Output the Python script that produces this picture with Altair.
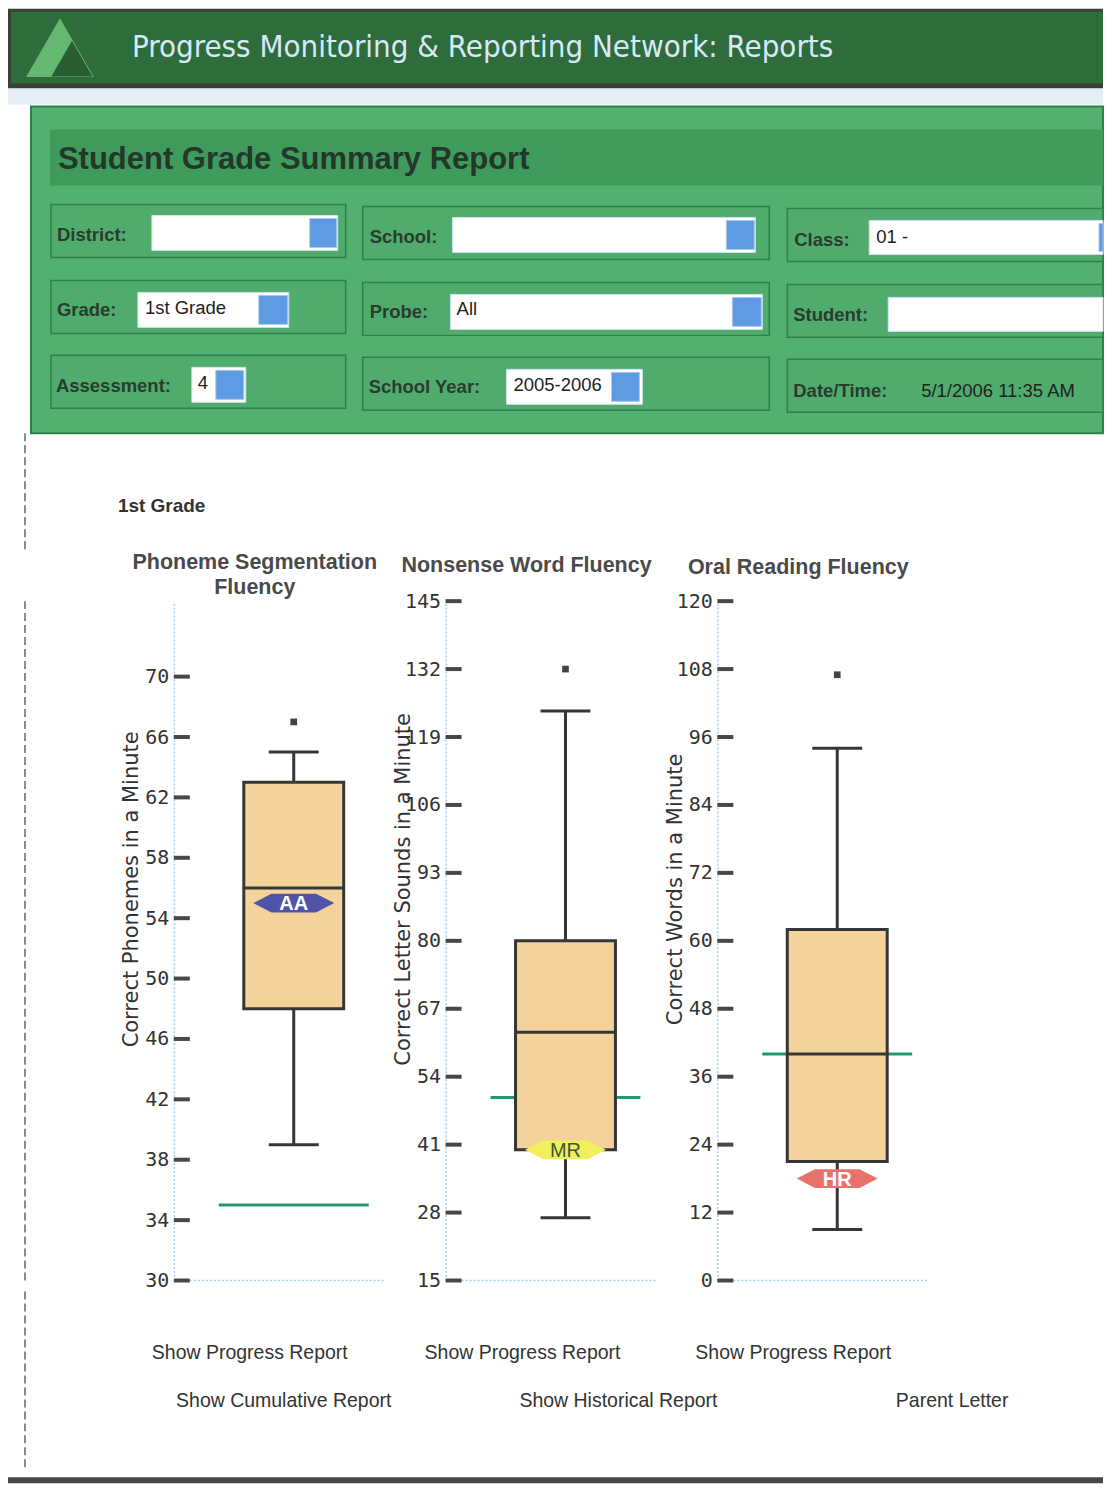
import altair as alt
import pandas as pd

# ---------------- report content ----------------
HEADER_TITLE = "Progress Monitoring & Reporting Network: Reports"
REPORT_TITLE = "Student Grade Summary Report"
FIELD_LABELS = ["District:", "School:", "Class:", "Grade:", "Probe:", "Student:",
                "Assessment:", "School Year:", "Date/Time:"]
FIELD_VALUES = ["", "", "01 -", "1st Grade", "All", "", "4", "2005-2006", "5/1/2006 11:35 AM"]
GRADE_TITLE = "1st Grade"

PROBES = ["PSF", "NWF", "ORF"]
PROBE_TITLES = [["Phoneme Segmentation", "Fluency"], ["Nonsense Word Fluency"], ["Oral Reading Fluency"]]
AXIS_TITLES = ["Correct Phonemes in a Minute", "Correct Letter Sounds in a Minute", "Correct Words in a Minute"]
Y_MIN = [30, 15, 0]
Y_MAX = [75, 145, 120]
TICKS_PSF = [30, 34, 38, 42, 46, 50, 54, 58, 62, 66, 70]
TICKS_NWF = [15, 28, 41, 54, 67, 80, 93, 106, 119, 132, 145]
TICKS_ORF = [0, 12, 24, 36, 48, 60, 72, 84, 96, 108, 120]
WHISKER_LOW = [39, 27, 9]
Q1 = [48, 40, 21]
MEDIAN = [56, 62.5, 40]
Q3 = [63, 80, 62]
WHISKER_HIGH = [65, 124, 94]
OUTLIER = [67, 132, 107]
BENCHMARK = [35, 50, 40]
STUDENT_SCORE = [55, 40, 18]
STUDENT_LEVEL = ["AA", "MR", "HR"]

LINKS_TOP = ["Show Progress Report", "Show Progress Report", "Show Progress Report"]
LINKS_BOTTOM = ["Show Cumulative Report", "Show Historical Report", "Parent Letter"]

# ---------------- layout / styles ----------------
X0, X1 = 8, 1104          # page pixel span used by full-width strips
A_Y0, A_Y1 = 8, 550       # header + form strip
C_Y0, C_Y1 = 1290, 1482   # links strip
PANEL_W, PANEL_H = 210, 680
PANEL_GAP = 8
SPACER_W = 105
BOX_BAND = [70, 170]
TITLE_OFFSET = [1, 13, 11]
TITLE_DY = 20
MARKER_FILL = ["#4f54a6", "#f2ef5c", "#e8716b"]
MARKER_TEXT = ["#ffffff", "#3c5a34", "#ffffff"]
MARKER_WEIGHT = ["bold", "normal", "bold"]
HEX = "M -1 0 L -0.55 -0.23 L 0.55 -0.23 L 1 0 L 0.55 0.23 L -0.55 0.23 Z"
BOX_FILL = "#f6d29b"
INK = "#363636"
GREEN_LINE = "#1f9a6e"
AXIS_BLUE = "#a7cdea"

COL_X = [(51, 346), (363, 770), (788, X1)]
COL_DY = [0, 2, 4]
ROW_Y = [(204, 257), (280, 333), (355, 408)]
LABEL_POS = [(57, 235), (370, 237), (795, 240), (57, 310), (370, 312), (794, 315),
             (56, 386), (369, 387), (794, 391)]
VALUE_POS = [(0, 0), (0, 0), (877, 237), (145, 308), (457, 309), (0, 0),
             (198, 383), (514, 385), (922, 391)]
INPUTS = [(152, 338, 215, 250), (453, 756, 217, 252), (870, X1, 220, 254),
          (138, 289, 292, 327), (451, 763, 294, 329), (889, X1, 297, 331),
          (192, 246, 367, 402), (507, 643, 369, 404), None]
BUTTONS = [(310, 337), (727, 755), (1100, X1), (259, 288), (733, 762), None,
           (216, 244), (612, 640), None]

XS_A = alt.Scale(domain=[X0, X1], nice=False, zero=False)
YS_A = alt.Scale(domain=[A_Y0, A_Y1], nice=False, zero=False, reverse=True)
YS_C = alt.Scale(domain=[C_Y0, C_Y1], nice=False, zero=False, reverse=True)

# ---------------- chart A: banner and form ----------------
rects = [
    (X0, X1, 8, 88, "#3b4035", "#3b4035", 0),
    (11, X1, 11, 83, "#2f6c3c", "#2f6c3c", 0),
    (X0, X1, 88, 104, "#e4eef6", "#e4eef6", 0),
    (31, X1, 106, 433, "#52b070", "#2e7f48", 2),
    (50, X1, 129, 185, "#3f9b5b", "#3f9b5b", 0),
]
for r in range(3):
    for c in range(3):
        rects.append((COL_X[c][0], COL_X[c][1], ROW_Y[r][0] + COL_DY[c], ROW_Y[r][1] + COL_DY[c],
                      "#4fac6d", "#327f4a", 1.5))
for k, inp in enumerate(INPUTS):
    if inp is None:
        continue
    rects.append((inp[0], inp[1], inp[2], inp[3], "#ffffff", "#cfe0f2", 1))
    if BUTTONS[k] is not None:
        rects.append((BUTTONS[k][0], BUTTONS[k][1], inp[2] + 3, inp[3] - 3, "#5d9be2", "#a9c9ef", 1))
rect_df = pd.DataFrame(rects, columns=["x", "x2", "y", "y2", "fill", "stroke", "sw"])

rect_layer = alt.Chart(rect_df).mark_rect().encode(
    x=alt.X("x:Q", scale=XS_A, axis=None), x2="x2:Q",
    y=alt.Y("y:Q", scale=YS_A, axis=None), y2="y2:Q",
    fill=alt.Fill("fill:N", scale=None), stroke=alt.Stroke("stroke:N", scale=None),
    strokeWidth=alt.StrokeWidth("sw:Q", scale=None),
)

logo_df = pd.DataFrame({"x": [60, 72], "y": [47, 58], "c": ["#64b870", "#2a5d31"], "s": [4600, 1700]})
logo_layer = alt.Chart(logo_df).mark_point(shape="triangle-up", filled=True, opacity=1).encode(
    x=alt.X("x:Q", scale=XS_A, axis=None), y=alt.Y("y:Q", scale=YS_A, axis=None),
    color=alt.Color("c:N", scale=None), size=alt.Size("s:Q", scale=None),
)

def text_layer(df, scale_y, **style):
    return alt.Chart(df).mark_text(align="left", baseline="middle", **style).encode(
        x=alt.X("x:Q", scale=XS_A, axis=None), y=alt.Y("y:Q", scale=scale_y, axis=None), text="t:N")

header_text = text_layer(pd.DataFrame({"x": [132], "y": [47], "t": [HEADER_TITLE]}), YS_A,
                         font="DejaVu Sans Condensed, Roboto Condensed, Roboto, Liberation Sans",
                         fontSize=31, color="#d8e8f7")
report_text = text_layer(pd.DataFrame({"x": [58], "y": [159], "t": [REPORT_TITLE]}), YS_A,
                         font="Liberation Sans", fontSize=31, fontWeight="bold", color="#24372a")
lab_df = pd.DataFrame({"x": [p[0] for p in LABEL_POS], "y": [p[1] for p in LABEL_POS], "t": FIELD_LABELS})
label_text = text_layer(lab_df, YS_A, font="Liberation Sans", fontSize=18.5, fontWeight="bold", color="#2b3b2f")
val_rows = [(VALUE_POS[k][0], VALUE_POS[k][1], v) for k, v in enumerate(FIELD_VALUES) if v]
val_df = pd.DataFrame(val_rows, columns=["x", "y", "t"])
value_text = text_layer(val_df, YS_A, font="Liberation Sans", fontSize=18.5, color="#222222")
grade_text = text_layer(pd.DataFrame({"x": [118], "y": [506], "t": [GRADE_TITLE]}), YS_A,
                        font="Liberation Sans", fontSize=19, fontWeight="bold", color="#333333")
border_a = alt.Chart(pd.DataFrame({"x": [25], "y": [433], "y2": [A_Y1]})).mark_rule(
    color="#666666", strokeDash=[8, 4], strokeWidth=1.5).encode(
    x=alt.X("x:Q", scale=XS_A, axis=None), y=alt.Y("y:Q", scale=YS_A, axis=None), y2="y2:Q")

chart_a = alt.layer(rect_layer, logo_layer, header_text, report_text, label_text, value_text,
                    grade_text, border_a).properties(width=X1 - X0, height=A_Y1 - A_Y0)

# ---------------- chart B: three box plots ----------------
def panel(i, ticks):
    row = pd.DataFrame({
        "probe": [PROBES[i]], "ymin": [Y_MIN[i]], "lo": [WHISKER_LOW[i]], "q1": [Q1[i]],
        "med": [MEDIAN[i]], "q3": [Q3[i]], "hi": [WHISKER_HIGH[i]], "out": [OUTLIER[i]],
        "bench": [BENCHMARK[i]], "student": [STUDENT_SCORE[i]], "level": [STUDENT_LEVEL[i]],
    })
    ysc = alt.Scale(domain=[Y_MIN[i], Y_MAX[i]], nice=False, zero=False)
    yax = alt.Axis(title=AXIS_TITLES[i], values=ticks, ticks=False, grid=False,
                   domainColor=AXIS_BLUE, domainDash=[2, 2], domainWidth=1.5,
                   labelFont="DejaVu Sans Mono", labelFontSize=20, labelColor="#333333",
                   labelPadding=5, titleFont="DejaVu Sans", titleFontSize=21,
                   titleFontWeight="normal", titleColor="#333333", titleAngle=270,
                   titleX=-42, titleY=288, titleAlign="center", titleBaseline="middle")

    def Y(f):
        return alt.Y(f + ":Q", scale=ysc, axis=yax)

    X = alt.X("probe:N", scale=alt.Scale(type="band", range=BOX_BAND, paddingInner=0, paddingOuter=0),
              axis=None)
    base = alt.Chart(row)
    frame = base.mark_rule(color=AXIS_BLUE, strokeDash=[2, 2], strokeWidth=1.5).encode(
        y=Y("ymin"), x=alt.value(0), x2=alt.value(PANEL_W))
    tick_marks = alt.Chart(pd.DataFrame({"t": ticks})).mark_tick(
        orient="horizontal", size=16, thickness=4, color="#474747", opacity=1).encode(
        y=Y("t"), x=alt.value(8))
    bench = base.mark_tick(orient="horizontal", size=150, thickness=3, color=GREEN_LINE, opacity=1).encode(
        x=X, y=Y("bench"))
    whisker = base.mark_rule(color=INK, strokeWidth=3).encode(x=X, y=Y("lo"), y2="hi:Q")
    box = base.mark_bar(fill=BOX_FILL, stroke=INK, strokeWidth=3).encode(x=X, y=Y("q1"), y2="q3:Q")
    med = base.mark_tick(orient="horizontal", size=100, thickness=3, color=INK, opacity=1).encode(
        x=X, y=Y("med"))
    cap_lo = base.mark_tick(orient="horizontal", size=50, thickness=3, color=INK, opacity=1).encode(
        x=X, y=Y("lo"))
    cap_hi = base.mark_tick(orient="horizontal", size=50, thickness=3, color=INK, opacity=1).encode(
        x=X, y=Y("hi"))
    out = base.mark_square(size=45, color="#444444", opacity=1).encode(x=X, y=Y("out"))
    marker = base.mark_point(shape=HEX, size=6561, filled=True, opacity=1, color=MARKER_FILL[i],
                             strokeWidth=0).encode(x=X, y=Y("student"))
    marker_txt = base.mark_text(font="Liberation Sans", fontSize=20, fontWeight=MARKER_WEIGHT[i],
                                color=MARKER_TEXT[i], baseline="middle", align="center", dy=1).encode(
        x=X, y=Y("student"), text="level:N")
    title = alt.TitleParams(text=PROBE_TITLES[i], font="Liberation Sans", fontSize=21.5,
                            fontWeight="bold", color="#4a4a4a", anchor="middle", frame="group",
                            dx=-24, dy=TITLE_DY, offset=TITLE_OFFSET[i], baseline="bottom",
                            lineHeight=25)
    return alt.layer(frame, tick_marks, bench, whisker, box, med, cap_lo, cap_hi, out, marker,
                     marker_txt).properties(width=PANEL_W, height=PANEL_H, title=title)

spacer = alt.Chart(pd.DataFrame({"k": [0]})).mark_rule(
    color="#666666", strokeDash=[8, 4], strokeWidth=1.5).encode(
    x=alt.value(17), y=alt.value(0), y2=alt.value(PANEL_H)).properties(width=SPACER_W, height=PANEL_H)

chart_b = alt.hconcat(spacer, panel(0, TICKS_PSF), panel(1, TICKS_NWF), panel(2, TICKS_ORF),
                      spacing=PANEL_GAP)

# ---------------- chart C: links ----------------
link_df = pd.DataFrame({
    "x": [250, 523, 794, 284, 619, 953],
    "y": [1352, 1352, 1352, 1400, 1400, 1400],
    "t": LINKS_TOP + LINKS_BOTTOM,
})
links = alt.Chart(link_df).mark_text(font="Liberation Sans", fontSize=19.5, color="#333333",
                                     align="center", baseline="middle").encode(
    x=alt.X("x:Q", scale=XS_A, axis=None), y=alt.Y("y:Q", scale=YS_C, axis=None), text="t:N")
bottom_line = alt.Chart(pd.DataFrame({"x": [X0], "x2": [X1], "y": [1476], "y2": [C_Y1]})).mark_rect(
    color="#474747").encode(x=alt.X("x:Q", scale=XS_A, axis=None), x2="x2:Q",
                            y=alt.Y("y:Q", scale=YS_C, axis=None), y2="y2:Q")
border_c = alt.Chart(pd.DataFrame({"x": [25], "y": [C_Y0], "y2": [1466]})).mark_rule(
    color="#666666", strokeDash=[8, 4], strokeWidth=1.5).encode(
    x=alt.X("x:Q", scale=XS_A, axis=None), y=alt.Y("y:Q", scale=YS_C, axis=None), y2="y2:Q")
chart_c = alt.layer(links, bottom_line, border_c).properties(width=X1 - X0, height=C_Y1 - C_Y0)

chart = alt.vconcat(chart_a, chart_b, chart_c, spacing=0).properties(
    padding=0, background="#ffffff").configure_view(strokeOpacity=0)

chart.save("out.html", embed_options={"renderer": "svg", "actions": False})
